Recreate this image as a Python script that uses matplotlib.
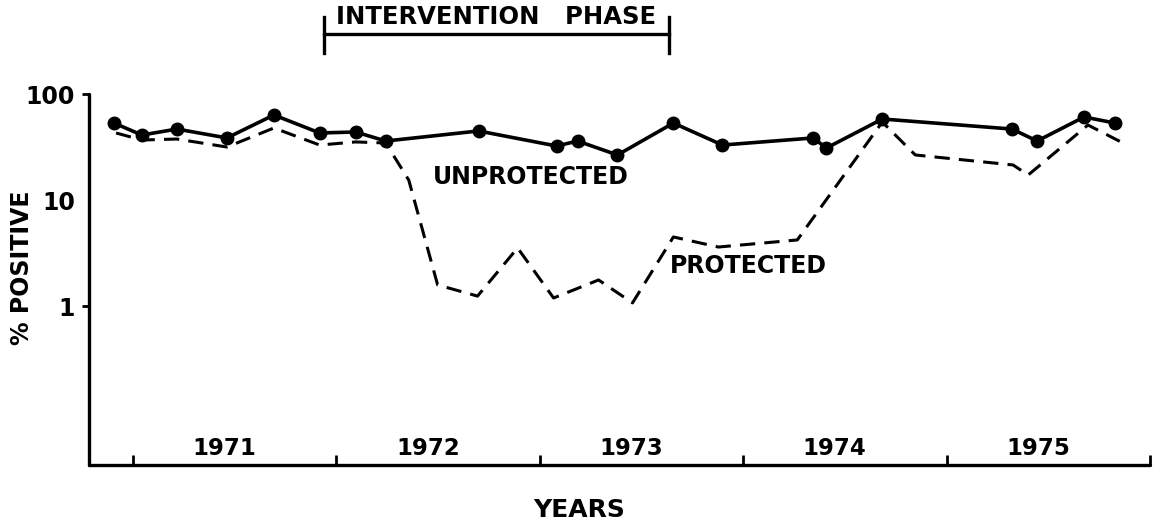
import matplotlib
matplotlib.use("Agg")
import matplotlib.pyplot as plt
import matplotlib.transforms as mtransforms

# Unprotected (solid line with dots)
unprot_t = [1970.907, 1971.044, 1971.216, 1971.462, 1971.693, 1971.918, 1972.095,
            1972.243, 1972.699, 1973.083, 1973.186, 1973.382, 1973.657, 1973.898,
            1974.345, 1974.409, 1974.684, 1975.322, 1975.445, 1975.676, 1975.828]
unprot_pct = [53.2, 41.0, 46.7, 38.5, 63.4, 42.9, 43.8,
              36.0, 44.8, 32.3, 36.0, 26.6, 53.2, 33.0,
              38.5, 30.9, 58.1, 46.7, 36.0, 60.7, 53.2]

# Protected (dashed line)
prot_t = [1970.917, 1971.044, 1971.216, 1971.462, 1971.693, 1971.918, 1972.095,
          1972.243, 1972.356, 1972.498, 1972.694, 1972.891, 1973.068, 1973.289,
          1973.456, 1973.657, 1973.878, 1974.266, 1974.684, 1974.846, 1975.327,
          1975.401, 1975.695, 1975.867]
prot_pct = [42.9, 36.8, 37.6, 31.6, 47.8, 33.0, 35.3,
            34.5, 15.4, 1.58, 1.24, 3.53, 1.19, 1.76,
            1.07, 4.48, 3.6, 4.2, 54.4, 26.6, 21.4,
            17.2, 51.0, 34.5]

years = [1971, 1972, 1973, 1974, 1975]
year_ticks = [1971, 1972, 1973, 1974, 1975, 1976]
intervention = (1971.938, 1973.633)

plt.rcParams['font.family'] = ['DejaVu Sans']
plt.rcParams['font.weight'] = 'bold'

fig = plt.figure(figsize=(11.64, 5.27), dpi=100)
ax = fig.add_axes([89 / 1164, 1 - 465 / 527, (1150 - 89) / 1164, (465 - 94) / 527])

ax.plot(unprot_t, unprot_pct, color='black', linewidth=2.6, marker='o',
        markersize=9, solid_joinstyle='round')
ax.plot(prot_t, prot_pct, color='black', linewidth=2.2, linestyle=(0, (5, 3)))

ax.set_yscale('log')
ax.set_ylim(10 ** -1.5, 100)
ax.set_xlim(1970.784, 1976.0)

# axes styling
for side in ['top', 'right']:
    ax.spines[side].set_visible(False)
for side in ['left', 'bottom']:
    ax.spines[side].set_linewidth(2.4)
    ax.spines[side].set_capstyle('round')

ax.set_yticks([1, 10, 100])
ax.set_yticklabels(['1', '10', '100'], fontsize=17, fontweight='bold')
ax.yaxis.set_minor_locator(matplotlib.ticker.NullLocator())
ax.tick_params(axis='y', direction='out', length=5, width=2, pad=5)
ax.yaxis.get_major_ticks()[1].tick1line.set_visible(False)

ax.set_xticks(year_ticks)
ax.set_xticklabels([])
ax.tick_params(axis='x', direction='in', length=7, width=2)

for y in years:
    ax.text(y + 0.45, 0.045, str(y), ha='center', va='center', fontsize=16.5,
            fontweight='bold', transform=ax.get_xaxis_transform())

# series labels
ax.text(1972.955, 16.5, 'UNPROTECTED', ha='center', va='center', fontsize=17, fontweight='bold')
ax.text(1974.026, 2.38, 'PROTECTED', ha='center', va='center', fontsize=17, fontweight='bold')

# intervention bracket
trans = mtransforms.blended_transform_factory(ax.transData, fig.transFigure)
x0, x1 = intervention
ybar = 1 - 34 / 527
ytop = 1 - 17 / 527
ybot = 1 - 53 / 527
ax.plot([x0, x1], [ybar, ybar], color='black', linewidth=2.4, transform=trans, clip_on=False)
ax.plot([x0, x0], [ytop, ybot], color='black', linewidth=2.4, transform=trans, clip_on=False)
ax.plot([x1, x1], [ytop, ybot], color='black', linewidth=2.4, transform=trans, clip_on=False)
ax.text((x0 + x1) / 2, 1 - 17 / 527, 'INTERVENTION   PHASE', ha='center', va='center',
        fontsize=17.5, fontweight='bold', transform=trans)

fig.text(579 / 1164, 1 - 510 / 527, 'YEARS', ha='center', va='center', fontsize=18, fontweight='bold')
fig.text(22 / 1164, 1 - 268 / 527, '% POSITIVE', ha='center', va='center', rotation=90,
         fontsize=17, fontweight='bold')

fig.savefig('out.png', dpi=100)
